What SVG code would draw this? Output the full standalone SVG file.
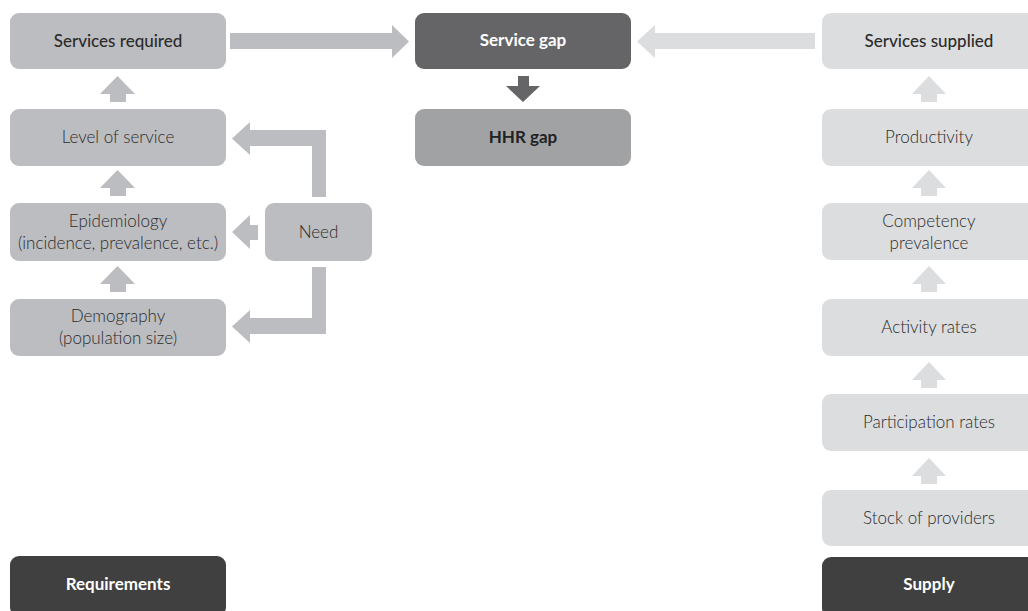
<svg xmlns="http://www.w3.org/2000/svg" width="1028" height="611" viewBox="0 0 1028 611">
<style>
text{font-family:Lato,"Open Sans","Liberation Sans",sans-serif;font-size:17px;text-anchor:middle;fill:#2b2b2b}
.b{font-weight:bold}
.m{font-weight:500}
.w{fill:#fff}
.l{font-weight:300}
.mid{fill:#bcbdc0}
.lt{fill:#dcdddf}
.dk{fill:#404040}
</style>
<rect width="1028" height="611" fill="#fff"/>
<g id="connectors">
<polygon class="mid" points="230,33 392,33 392,25 409,41.5 392,58 392,49 230,49"/>
<polygon class="lt" points="815,33 655,33 655,25 637,41.5 655,58 655,49 815,49"/>
<polygon fill="#656567" points="518,76 529,76 529,86 540,86 523,102 506,86 518,86"/>
<g class="mid">
<polygon points="110,102 110,94 100,94 117.5,76 135,94 126,94 126,102"/>
<polygon points="110,196 110,188 100,188 117.5,170 135,188 126,188 126,196"/>
<polygon points="110,292 110,284 100,284 117.5,266 135,284 126,284 126,292"/>
<polygon points="312,197 312,146 250,146 250,155 232,138.5 250,122 250,130 326,130 326,197"/>
<polygon points="258,225 250,225 250,215 232,232 250,249 250,240 258,240"/>
<polygon points="312,267 312,318 250,318 250,310 232,326.5 250,343 250,334 326,334 326,267"/>
</g>
<g class="lt">
<polygon points="921,102 921,94 912,94 929,76 946,94 937,94 937,102"/>
<polygon points="921,196 921,188 912,188 929,170 946,188 937,188 937,196"/>
<polygon points="921,292 921,284 912,284 929,266 946,284 937,284 937,292"/>
<polygon points="921,388 921,380 912,380 929,362 946,380 937,380 937,388"/>
<polygon points="921,484 921,476 912,476 929,458 946,476 937,476 937,484"/>
</g>
</g>
<g id="services-required"><rect class="mid" x="10" y="13" width="216" height="56" rx="9"/><text x="118" y="47" class="m">Services required</text></g>
<g id="level-of-service"><rect class="mid" x="10" y="109" width="216" height="57" rx="9"/><text x="118" y="143" class="l">Level of service</text></g>
<g id="epidemiology"><rect class="mid" x="10" y="203" width="216" height="58" rx="9"/><text x="118" y="227" class="l">Epidemiology</text><text x="118" y="249" class="l">(incidence, prevalence, etc.)</text></g>
<g id="demography"><rect class="mid" x="10" y="299" width="216" height="57" rx="9"/><text x="118" y="322" class="l">Demography</text><text x="118" y="344" class="l">(population size)</text></g>
<g id="need"><rect class="mid" x="265" y="203" width="107" height="58" rx="9"/><text x="318.5" y="238" class="l">Need</text></g>
<g id="requirements"><rect class="dk" x="10" y="556" width="216" height="60" rx="9"/><text x="118" y="590" class="b w">Requirements</text></g>
<g id="service-gap"><rect fill="#656567" x="415" y="13" width="216" height="56" rx="9"/><text x="523" y="46" class="b w">Service gap</text></g>
<g id="hhr-gap"><rect fill="#a1a2a4" x="415" y="109" width="216" height="57" rx="9"/><text x="523" y="143" class="b" style="fill:#222">HHR gap</text></g>
<g id="services-supplied"><rect class="lt" x="822" y="13" width="216" height="56" rx="9"/><text x="929" y="47" class="m">Services supplied</text></g>
<g id="productivity"><rect class="lt" x="822" y="109" width="216" height="57" rx="9"/><text x="929" y="143" class="l">Productivity</text></g>
<g id="competency"><rect class="lt" x="822" y="203" width="216" height="57" rx="9"/><text x="929" y="227" class="l">Competency</text><text x="929" y="249" class="l">prevalence</text></g>
<g id="activity-rates"><rect class="lt" x="822" y="299" width="216" height="57" rx="9"/><text x="929" y="333" class="l">Activity rates</text></g>
<g id="participation-rates"><rect class="lt" x="822" y="394" width="216" height="57" rx="9"/><text x="929" y="428" class="l">Participation rates</text></g>
<g id="stock-of-providers"><rect class="lt" x="822" y="490" width="216" height="56" rx="9"/><text x="929" y="524" class="l">Stock of providers</text></g>
<g id="supply"><rect class="dk" x="822" y="557" width="216" height="60" rx="9"/><text x="929" y="590" class="b w">Supply</text></g>
</svg>
